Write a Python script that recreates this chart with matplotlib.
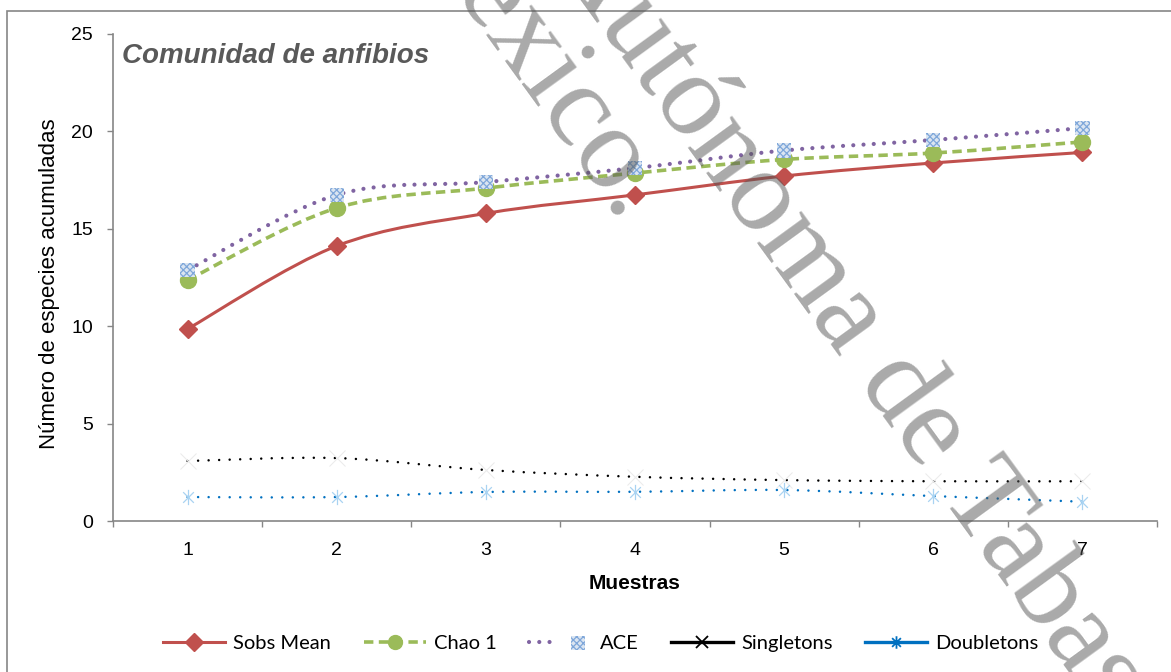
import matplotlib
matplotlib.use("Agg")
import matplotlib.pyplot as plt
import numpy as np
from matplotlib.path import Path
from matplotlib.patches import PathPatch, Rectangle
from matplotlib.lines import Line2D
from matplotlib.legend_handler import HandlerTuple

# curvas de acumulacion de especies, comunidad de anfibios
muestras = [1, 2, 3, 4, 5, 6, 7]
sobs_mean = [9.86, 14.12, 15.79, 16.74, 17.71, 18.38, 18.92]
chao1 = [12.37, 16.07, 17.09, 17.86, 18.56, 18.89, 19.46]
ace = [12.88, 16.74, 17.40, 18.12, 19.02, 19.56, 20.17]
singletons = [3.08, 3.23, 2.62, 2.27, 2.10, 2.04, 2.04]
doubletons = [1.23, 1.23, 1.49, 1.50, 1.59, 1.28, 0.99]

nombres = ["Sobs Mean", "Chao 1", "ACE", "Singletons", "Doubletons"]
yticks = [0, 5, 10, 15, 20, 25]

ROJO = "#c0504d"
VERDE = "#9bbb59"
MORADO = "#8064a2"
AZUL = "#0070c0"
GRIS = "#868686"

plt.rcParams["font.family"] = ["Liberation Sans", "DejaVu Sans"]
plt.rcParams["hatch.color"] = "#7fa7da"
plt.rcParams["hatch.linewidth"] = 0.9


def suave(xs, ys):
    # curva suavizada tipo Excel (Bezier por tramos)
    pts = np.column_stack([xs, ys]).astype(float)
    n = len(pts)
    verts = [pts[0]]
    codes = [Path.MOVETO]
    for i in range(n - 1):
        p0 = pts[max(i - 1, 0)]
        p1 = pts[i]
        p2 = pts[i + 1]
        p3 = pts[min(i + 2, n - 1)]
        verts += [p1 + (p2 - p0) / 6, p2 - (p3 - p1) / 6, p2]
        codes += [Path.CURVE4] * 3
    return Path(verts, codes)


asterisco = Path(
    [(0, -1), (0, 1), (-0.7, -0.7), (0.7, 0.7), (-0.7, 0.7), (0.7, -0.7)],
    [Path.MOVETO, Path.LINETO] * 3,
)

fig = plt.figure(figsize=(11.71, 6.72), dpi=100)
ax = fig.add_axes([113 / 1171, 1 - 521 / 672, 1044 / 1171, 487 / 672])

# lineas
ax.add_patch(PathPatch(suave(muestras, sobs_mean), fill=False, edgecolor=ROJO,
                       lw=2.2, zorder=2))
ax.plot(muestras, sobs_mean, ls="none", marker="D", ms=9.5, color=ROJO, zorder=3)

ax.add_patch(PathPatch(suave(muestras, chao1), fill=False, edgecolor=VERDE,
                       lw=2.6, ls=(0, (2.6, 1.5)), zorder=2))
ax.plot(muestras, chao1, ls="none", marker="o", ms=11.5, color=VERDE, zorder=3)

ax.add_patch(PathPatch(suave(muestras, ace), fill=False, edgecolor=MORADO,
                       lw=3.0, ls=(0, (0.01, 2.45)), capstyle="round", zorder=2))
sc_ace = ax.scatter(muestras, ace, marker="s", s=105, facecolor="#dbe5f1",
                    edgecolor="#7fa7da", linewidth=0, hatch="xxxxx", zorder=4)

ax.add_patch(PathPatch(suave(muestras, singletons), fill=False, edgecolor="black",
                       lw=1.8, ls=(0, (0.01, 4.2)), capstyle="round", zorder=2))
ax.plot(muestras, singletons, ls="none", marker="x", ms=11, mew=0.8,
        color="#ececec", zorder=3)

ax.add_patch(PathPatch(suave(muestras, doubletons), fill=False, edgecolor=AZUL,
                       lw=1.8, ls=(0, (0.01, 4.2)), capstyle="round", zorder=2))
ax.plot(muestras, doubletons, ls="none", marker=asterisco, ms=11, mew=0.9,
        color="#a9d3f2", zorder=3)

# ejes
ax.set_xlim(0.5, 7.5)
ax.set_ylim(0, 25)
ax.set_xticks(np.arange(0.5, 8, 1))
ax.set_xticks(muestras, minor=True)
ax.set_xticklabels([str(m) for m in muestras], minor=True)
ax.tick_params(axis="x", which="major", direction="out", length=4.5, width=1,
               color=GRIS, labelbottom=False)
ax.tick_params(axis="x", which="minor", length=0, pad=15, labelsize=14)
ax.set_yticks(yticks)
ax.tick_params(axis="y", direction="out", length=4.5, width=1, color=GRIS,
               pad=10, labelsize=14)
for lado in ["top", "right"]:
    ax.spines[lado].set_visible(False)
for lado in ["left", "bottom"]:
    ax.spines[lado].set_color(GRIS)
    ax.spines[lado].set_linewidth(1.2)

ax.set_xlabel("Muestras", fontsize=15, fontweight="bold")
ax.xaxis.set_label_coords(0.5, -0.129)
ax.xaxis.label.set_va("center")
ax.set_ylabel("Número de especies acumuladas", fontsize=16)
ax.yaxis.set_label_coords(-0.0613, 0.487)
ax.yaxis.label.set_va("center")

fig.text(122 / 1171, 1 - 63 / 672, "Comunidad de anfibios", fontsize=20,
         fontweight="bold", style="italic", color="#595959", va="baseline")

# leyenda
h_sobs = Line2D([], [], color=ROJO, lw=2.2, marker="D", ms=9)
h_chao = Line2D([], [], color=VERDE, lw=2.6, ls=(0, (2.6, 1.5)), marker="o", ms=10)
h_ace_linea = Line2D([], [], color=MORADO, lw=3.0, ls=(0, (0.01, 2.45)),
                     dash_capstyle="round")
h_single = Line2D([], [], color="black", lw=2.4, marker="x", ms=9, mew=1.3)
h_double = Line2D([], [], color=AZUL, lw=2.4, marker=asterisco, ms=9, mew=1.3)
fig.legend([h_sobs, h_chao, (h_ace_linea, sc_ace), h_single, h_double], nombres,
           loc="center", bbox_to_anchor=(0.513, 0.043), ncol=5, frameon=False,
           handlelength=3.1, handletextpad=0.4, columnspacing=1.6,
           handler_map={tuple: HandlerTuple(ndivide=None)},
           prop={"family": "Lato", "size": 14.5})

# marco del grafico
fig.patches.append(Rectangle((7 / 1171, -0.1), 1.2, 1 - 11 / 672 + 0.1,
                             transform=fig.transFigure, fill=False,
                             edgecolor=GRIS, lw=1.2))

# marca de agua
marca = dict(rotation=-54, rotation_mode="anchor", fontsize=85,
             family="Liberation Serif", color="#555555", alpha=0.5, zorder=10)
fig.text(547 / 1171, 1 + 46 / 672, "Autónoma de Tabasco", ha="left",
         va="baseline", **marca)
fig.text(620 / 1171, 1 - 225 / 672, "México.", ha="right", va="baseline", **marca)

fig.savefig("out.png", dpi=100)
